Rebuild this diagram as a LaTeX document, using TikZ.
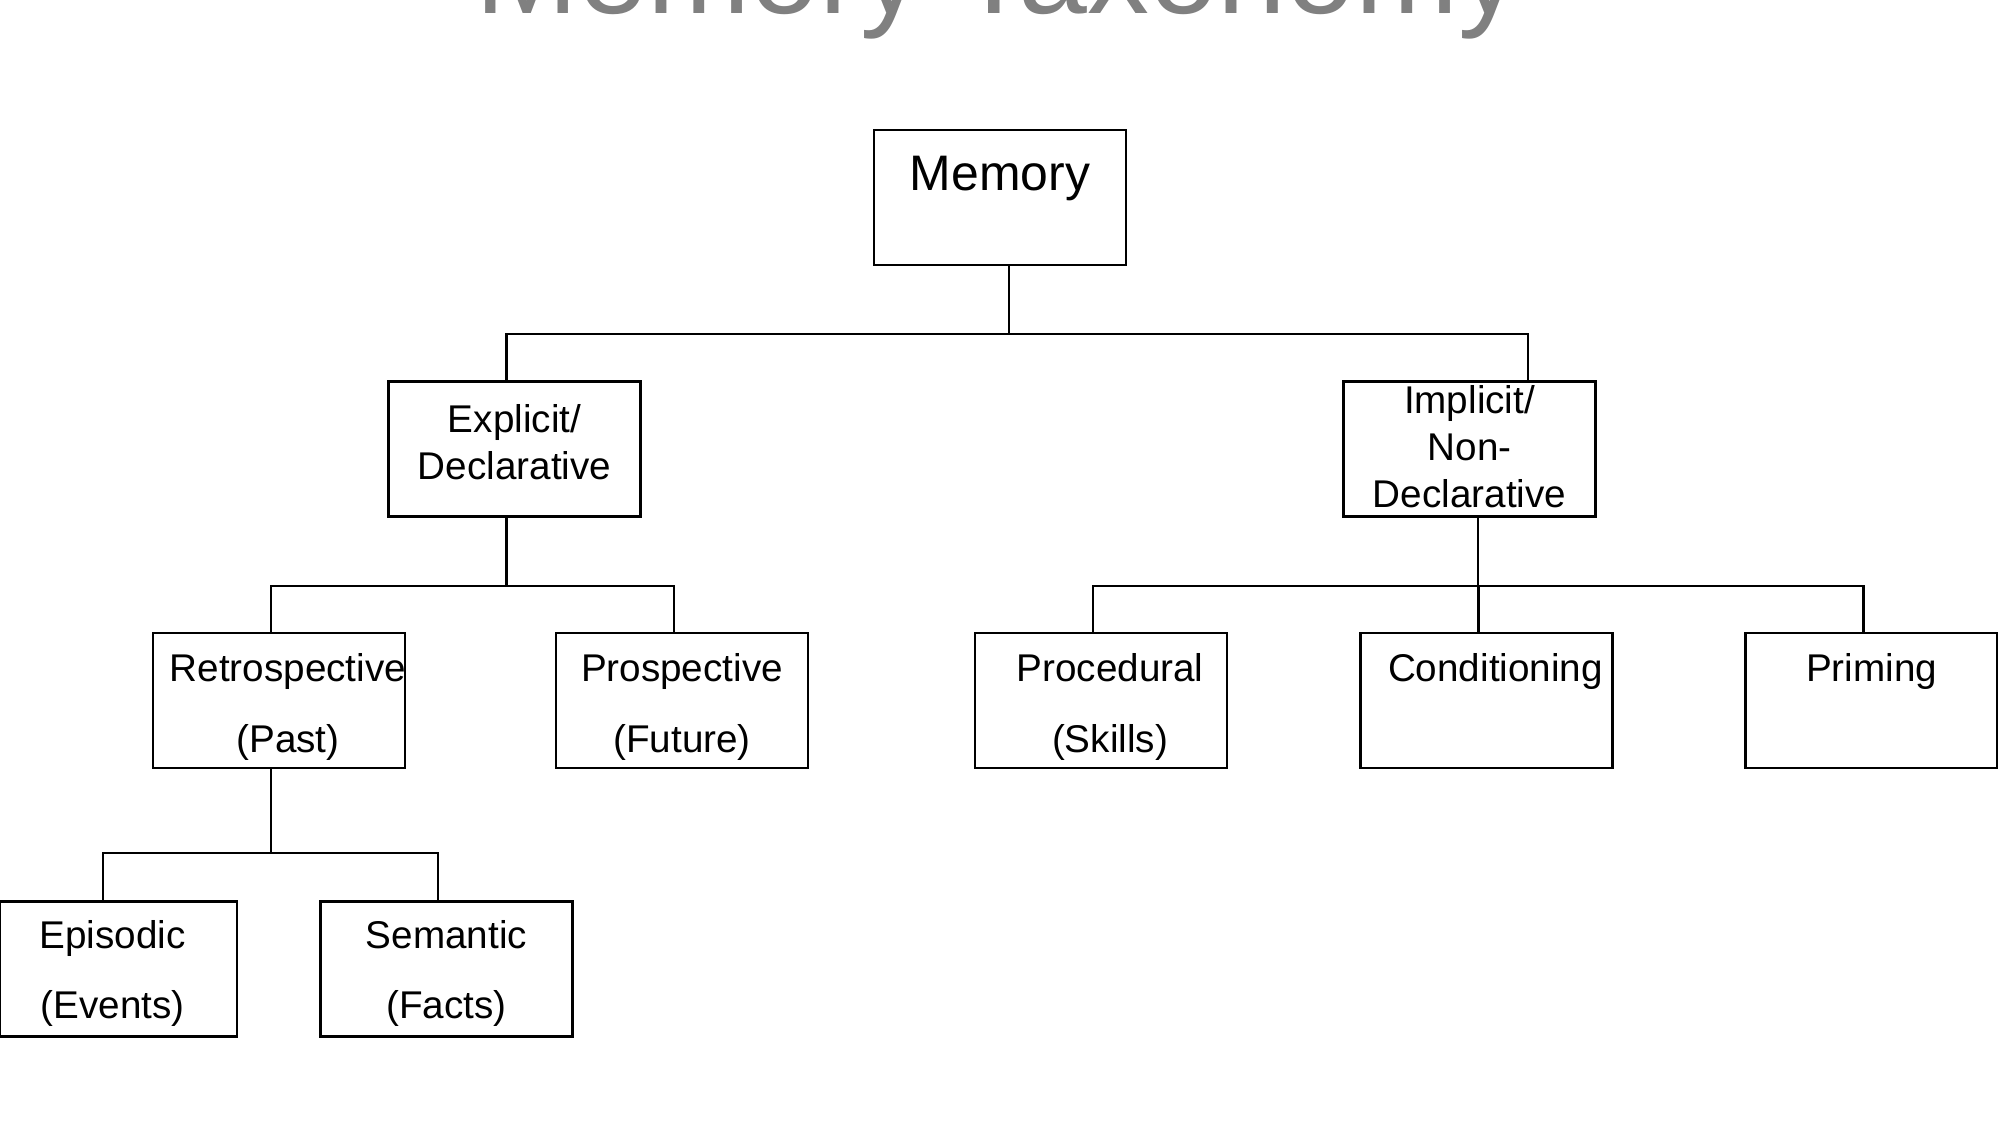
\documentclass[tikz,border=0pt]{standalone}
\usepackage{fontspec}
\setmainfont{Liberation Sans}
\usepackage{tikz}
\usetikzlibrary{calc}
\definecolor{titleGray}{RGB}{128,128,128}
\newcommand{\cellt}[4][2.52cm]{\parbox[c][1.35cm][t]{#1}{\centering
  \leftskip=#2 plus 1fil\rightskip=-#2 plus 1fil\rule{0pt}{#3}#4}}

\begin{document}
\begin{tikzpicture}[
  taxbox/.style={rectangle,draw=black,line width=0.6pt,inner sep=0pt,
                 font=\fontsize{11pt}{0.47cm}\selectfont},
  rootbox/.style={taxbox,font=\fontsize{14.2pt}{17pt}\selectfont},
  link/.style={draw=black,line width=0.6pt}
]
  \useasboundingbox (0,0) rectangle (19.98,-11.40);
  \node[anchor=base,text=titleGray,font=\fontsize{35.2pt}{40pt}\selectfont] (title) at (9.98,-0.13) {Memory Taxonomy};

  \node[rootbox] (mem)   at (10.00,-1.975) {\cellt{0cm}{0.60cm}{Memory}};
  \node[taxbox]  (expl)  at (5.145,-4.49)  {\cellt{0cm}{0.51cm}{Explicit/\\Declarative}};
  \node[taxbox]  (impl)  at (14.695,-4.49) {\cellt{0cm}{0.32cm}{Implicit/\\Non-\\Declarative}};
  \node[taxbox]  (retro) at (2.79,-7.005)  {\cellt{0.09cm}{0.48cm}{Retrospective\\[0.24cm](Past)}};
  \node[taxbox]  (prosp) at (6.82,-7.005)  {\cellt{0cm}{0.48cm}{Prospective\\[0.24cm](Future)}};
  \node[taxbox]  (proc)  at (11.01,-7.005) {\cellt{0.09cm}{0.48cm}{Procedural\\[0.24cm](Skills)}};
  \node[taxbox]  (cond)  at (14.865,-7.005){\cellt{0.09cm}{0.48cm}{Conditioning}};
  \node[taxbox]  (prim)  at (18.715,-7.005){\cellt{0cm}{0.48cm}{Priming}};
  \node[taxbox]  (epis)  at (1.185,-9.69)  {\cellt[2.37cm]{-0.06cm}{0.47cm}{Episodic\\[0.23cm](Events)}};
  \node[taxbox]  (sem)   at (4.465,-9.69)  {\cellt{0cm}{0.47cm}{Semantic\\[0.23cm](Facts)}};

  \draw[link] ([xshift=0.09cm]mem.south) -- ++(0,-0.68) -| ([xshift=-0.08cm]expl.north);
  \draw[link] ([xshift=0.09cm]mem.south) -- ++(0,-0.68) -| ([xshift=0.585cm]impl.north);
  \draw[link] ([xshift=-0.08cm]expl.south) -- ++(0,-0.68) -| ([xshift=-0.08cm]retro.north);
  \draw[link] ([xshift=-0.08cm]expl.south) -- ++(0,-0.68) -| ([xshift=-0.08cm]prosp.north);
  \draw[link] ([xshift=0.085cm]impl.south) -- ++(0,-0.68) -| ([xshift=-0.08cm]proc.north);
  \draw[link] ([xshift=0.085cm]impl.south) -- ++(0,-0.68) -| ([xshift=-0.08cm]cond.north);
  \draw[link] ([xshift=0.085cm]impl.south) -- ++(0,-0.68) -| ([xshift=-0.08cm]prim.north);
  \draw[link] ([xshift=-0.08cm]retro.south) -- ++(0,-0.84) -| ([xshift=-0.155cm]epis.north);
  \draw[link] ([xshift=-0.08cm]retro.south) -- ++(0,-0.84) -| ([xshift=-0.085cm]sem.north);
\end{tikzpicture}
\end{document}
